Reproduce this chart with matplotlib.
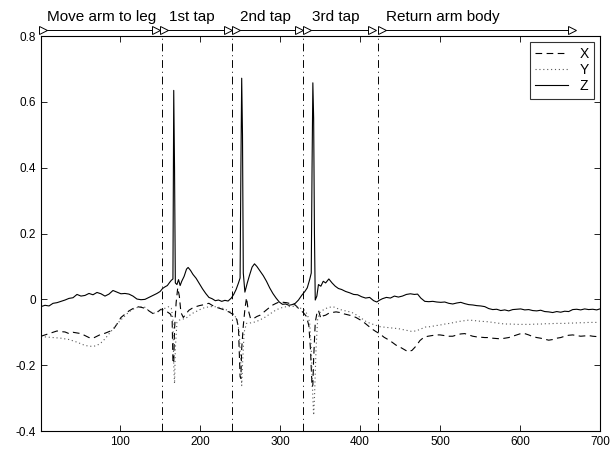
import matplotlib
matplotlib.use("Agg")
import matplotlib.pyplot as plt

plt.rcParams['font.family'] = ['Liberation Sans', 'DejaVu Sans']

# signal Z (solid)
z_x = [1, 6, 11, 16, 21, 26, 31, 36, 41, 46, 51, 56, 61, 66, 71, 76, 81, 86, 91, 96,
       101, 106, 111, 116, 121, 126, 131, 136, 141, 146, 150, 153, 156, 159, 162, 164, 166,
       167, 168, 169, 171, 173, 175, 177, 180, 183, 185, 188, 191, 195, 199, 203, 207, 211,
       215, 219, 223, 227, 231, 235, 239, 242, 245, 248, 250, 251, 252, 253, 254, 256, 259,
       262, 265, 268, 271, 275, 279, 283, 287, 291, 295, 299, 303, 307, 311, 315, 319, 323,
       327, 331, 334, 337, 339, 340, 341, 342, 343, 344, 346, 348, 351, 354, 357, 361, 365,
       369, 373, 377, 382, 387, 392, 397, 402, 407, 412, 417, 421, 424, 428, 433, 438, 443,
       448, 453, 458, 463, 468, 472, 476, 481, 486, 491, 496, 501, 506, 511, 516, 521, 526,
       531, 536, 541, 546, 551, 556, 561, 566, 571, 576, 581, 586, 591, 596, 601, 606, 611,
       616, 621, 626, 631, 636, 641, 646, 651, 656, 661, 666, 671, 676, 681, 686, 691, 696, 700]
z_y = [-0.022, -0.018, -0.020, -0.012, -0.010, -0.006, -0.002, 0.003, 0.005, 0.015, 0.010,
       0.012, 0.018, 0.014, 0.021, 0.017, 0.010, 0.016, 0.027, 0.022, 0.017, 0.018, 0.016,
       0.010, 0.001, -0.001, 0.000, 0.006, 0.012, 0.018, 0.024, 0.033, 0.038, 0.042, 0.052,
       0.058, 0.062, 0.635, 0.400, 0.050, 0.045, 0.060, 0.042, 0.055, 0.070, 0.092, 0.097,
       0.088, 0.076, 0.064, 0.048, 0.032, 0.018, 0.006, 0.002, -0.004, -0.002, -0.006, -0.003,
       -0.005, 0.004, 0.015, 0.030, 0.050, 0.065, 0.400, 0.672, 0.500, 0.080, 0.022, 0.050,
       0.075, 0.098, 0.108, 0.100, 0.086, 0.072, 0.055, 0.035, 0.018, 0.004, -0.008, -0.015,
       -0.014, -0.018, -0.016, -0.012, -0.002, 0.012, 0.024, 0.035, 0.060, 0.080, 0.400,
       0.658, 0.550, 0.200, -0.002, 0.010, 0.045, 0.040, 0.055, 0.050, 0.062, 0.050, 0.040,
       0.033, 0.030, 0.024, 0.020, 0.015, 0.014, 0.008, 0.004, 0.006, -0.004, -0.008, -0.003,
       0.002, 0.006, 0.004, 0.010, 0.007, 0.010, 0.015, 0.017, 0.015, 0.016, 0.004, -0.006,
       -0.007, -0.006, -0.008, -0.009, -0.008, -0.012, -0.014, -0.011, -0.009, -0.013, -0.016,
       -0.017, -0.019, -0.020, -0.022, -0.028, -0.031, -0.030, -0.034, -0.032, -0.035, -0.031,
       -0.030, -0.029, -0.032, -0.031, -0.034, -0.035, -0.033, -0.037, -0.038, -0.040, -0.037,
       -0.039, -0.036, -0.037, -0.031, -0.030, -0.032, -0.029, -0.031, -0.030, -0.032, -0.029]

# signal X (dashed)
x_x = [1, 6, 11, 16, 21, 26, 31, 36, 41, 46, 51, 56, 61, 66, 71, 76, 81, 86, 91, 96, 101,
       106, 111, 116, 121, 126, 131, 136, 141, 146, 151, 156, 160, 163, 165, 166, 167, 168,
       170, 172, 174, 176, 179, 182, 186, 190, 195, 199, 203, 207, 211, 215, 219, 224, 228,
       232, 236, 240, 243, 246, 248, 250, 251, 252, 254, 256, 258, 260, 263, 267, 271, 275,
       279, 283, 287, 291, 295, 300, 304, 308, 313, 319, 324, 329, 333, 336, 338, 340, 341,
       342, 344, 346, 348, 351, 354, 357, 361, 365, 370, 375, 380, 385, 390, 395, 400, 405,
       410, 415, 420, 425, 430, 435, 440, 445, 450, 455, 460, 465, 470, 475, 480, 485, 490,
       495, 500, 506, 511, 516, 521, 526, 531, 536, 541, 546, 551, 556, 561, 566, 571, 576,
       581, 586, 591, 596, 601, 606, 611, 616, 621, 626, 631, 636, 641, 646, 651, 656, 661,
       666, 671, 676, 681, 686, 691, 696, 700]
x_y = [-0.112, -0.108, -0.104, -0.100, -0.096, -0.098, -0.099, -0.104, -0.100, -0.102,
       -0.104, -0.110, -0.116, -0.118, -0.112, -0.106, -0.103, -0.098, -0.093, -0.075, -0.055,
       -0.045, -0.035, -0.028, -0.022, -0.024, -0.027, -0.035, -0.043, -0.040, -0.030, -0.033,
       -0.040, -0.045, -0.060, -0.190, -0.195, -0.090, -0.010, 0.035, 0.010, -0.040, -0.055,
       -0.045, -0.033, -0.027, -0.022, -0.019, -0.017, -0.014, -0.012, -0.018, -0.023, -0.027,
       -0.030, -0.035, -0.038, -0.044, -0.050, -0.062, -0.090, -0.235, -0.240, -0.150, -0.080,
       -0.030, 0.005, -0.030, -0.058, -0.058, -0.052, -0.048, -0.040, -0.032, -0.024, -0.017,
       -0.012, -0.007, -0.009, -0.010, -0.013, -0.017, -0.030, -0.040, -0.052, -0.080, -0.150,
       -0.266, -0.260, -0.180, -0.070, -0.043, -0.033, -0.058, -0.050, -0.048, -0.042, -0.040,
       -0.038, -0.040, -0.044, -0.047, -0.050, -0.055, -0.062, -0.070, -0.080, -0.090, -0.098,
       -0.105, -0.115, -0.122, -0.130, -0.139, -0.145, -0.152, -0.159, -0.155, -0.142, -0.125,
       -0.115, -0.112, -0.110, -0.108, -0.108, -0.110, -0.112, -0.112, -0.108, -0.105, -0.104,
       -0.108, -0.112, -0.114, -0.115, -0.116, -0.116, -0.118, -0.119, -0.120, -0.118, -0.116,
       -0.112, -0.108, -0.104, -0.104, -0.108, -0.113, -0.116, -0.118, -0.121, -0.124, -0.122,
       -0.118, -0.116, -0.112, -0.109, -0.108, -0.110, -0.112, -0.111, -0.110, -0.112, -0.113,
       -0.112]

# signal Y (dotted)
y_x = [1, 6, 11, 16, 21, 26, 31, 36, 41, 46, 51, 56, 61, 66, 71, 76, 81, 86, 91, 96, 101,
       106, 111, 116, 121, 126, 131, 136, 141, 146, 151, 156, 161, 164, 166, 167, 168, 169,
       171, 174, 178, 182, 186, 190, 195, 199, 203, 208, 213, 218, 223, 228, 233, 238, 242,
       246, 249, 251, 252, 253, 255, 258, 262, 266, 270, 275, 280, 285, 290, 295, 300, 305,
       310, 315, 320, 325, 330, 334, 337, 339, 341, 342, 343, 345, 347, 350, 355, 360, 366,
       372, 378, 384, 390, 396, 402, 408, 414, 420, 425, 432, 440, 448, 456, 464, 470, 476,
       482, 488, 494, 500, 506, 512, 518, 524, 530, 536, 542, 548, 554, 560, 566, 572, 578,
       584, 590, 596, 602, 608, 614, 620, 626, 632, 638, 644, 650, 656, 662, 668, 674, 680,
       686, 692, 698]
y_y = [-0.112, -0.114, -0.115, -0.116, -0.117, -0.118, -0.120, -0.122, -0.126, -0.130,
       -0.135, -0.140, -0.142, -0.143, -0.140, -0.132, -0.120, -0.105, -0.090, -0.075, -0.062,
       -0.050, -0.038, -0.030, -0.025, -0.022, -0.024, -0.035, -0.043, -0.038, -0.032, -0.027,
       -0.022, -0.027, -0.060, -0.200, -0.256, -0.150, -0.070, -0.063, -0.060, -0.058, -0.050,
       -0.043, -0.037, -0.032, -0.027, -0.024, -0.022, -0.022, -0.024, -0.027, -0.032, -0.038,
       -0.045, -0.060, -0.100, -0.200, -0.262, -0.200, -0.100, -0.073, -0.072, -0.070, -0.068,
       -0.062, -0.056, -0.048, -0.040, -0.032, -0.027, -0.023, -0.022, -0.021, -0.022, -0.026,
       -0.032, -0.045, -0.070, -0.150, -0.300, -0.352, -0.300, -0.150, -0.060, -0.040, -0.030,
       -0.025, -0.022, -0.028, -0.033, -0.036, -0.040, -0.048, -0.058, -0.068, -0.074, -0.079,
       -0.083, -0.085, -0.087, -0.089, -0.093, -0.097, -0.096, -0.090, -0.084, -0.083, -0.080,
       -0.078, -0.075, -0.073, -0.070, -0.067, -0.065, -0.063, -0.064, -0.066, -0.067, -0.068,
       -0.070, -0.072, -0.074, -0.075, -0.075, -0.076, -0.076, -0.076, -0.076, -0.075, -0.075,
       -0.074, -0.074, -0.073, -0.073, -0.073, -0.072, -0.072, -0.071, -0.071, -0.070, -0.070,
       -0.070]

# event boundaries and phase labels
events = [152, 240, 329, 423]
phase_labels = ["Move arm to leg", "1st tap", "2nd tap", "3rd tap", "Return arm body"]
phase_text_x = [8, 161, 250, 340, 432]
phase_start = [3, 155, 245, 334, 427]
phase_end = [145, 235, 324, 415, 665]

fig = plt.figure(figsize=(6.14, 4.51), dpi=100)
ax = fig.add_axes([0.0668, 0.0443, 0.9102, 0.8757])

ax.plot(x_x, x_y, color='black', linestyle=(0, (6, 4)), linewidth=0.8, label='X')
ax.plot(y_x, y_y, color='0.35', linestyle=(0, (1, 2.5)), linewidth=0.8, label='Y')
ax.plot(z_x, z_y, color='black', linestyle='-', linewidth=0.8, label='Z')

for e in events:
    ax.axvline(e, color='black', linestyle=(0, (8, 4, 1, 4)), linewidth=0.7)

for lab, tx, s, e in zip(phase_labels, phase_text_x, phase_start, phase_end):
    ax.plot([s, e], [0.818, 0.818], color='black', linewidth=0.7, clip_on=False)
    ax.plot([s, e], [0.818, 0.818], linestyle='none', marker='>', markersize=6,
            markerfacecolor='white', markeredgecolor='black', markeredgewidth=0.7,
            clip_on=False)
    ax.text(tx, 0.838, lab, fontsize=11, ha='left', va='bottom')

ax.set_xlim(1, 700)
ax.set_ylim(-0.4, 0.8)
ax.set_xticks([100, 200, 300, 400, 500, 600, 700])
ax.set_yticks([-0.4, -0.2, 0, 0.2, 0.4, 0.6, 0.8])
ax.set_yticklabels(["-0.4", "-0.2", "0", "0.2", "0.4", "0.6", "0.8"])
ax.tick_params(direction='in', top=True, right=True, labelsize=8.5, length=4, width=0.6)
for sp in ax.spines.values():
    sp.set_linewidth(0.8)

leg = ax.legend(loc='upper right', fontsize=10, frameon=True, fancybox=False,
                edgecolor='black', handlelength=2.4, borderaxespad=0.4,
                labelspacing=0.15, handletextpad=0.8)
leg.get_frame().set_linewidth(0.8)

fig.savefig("out.png", dpi=100)
